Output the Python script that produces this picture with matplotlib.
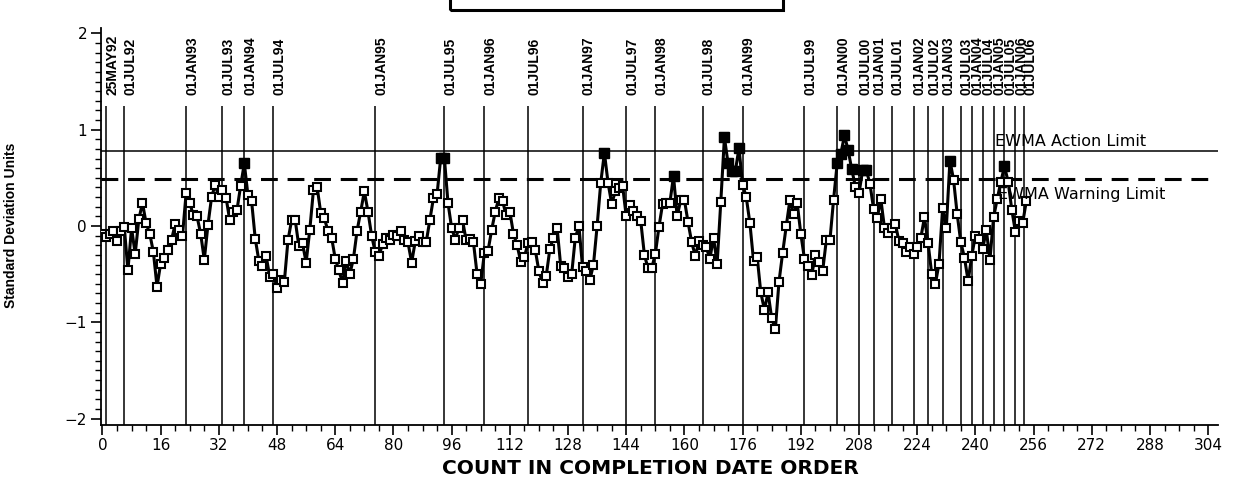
import matplotlib
matplotlib.use("Agg")
import matplotlib.pyplot as plt
import matplotlib.transforms as mtransforms
from matplotlib.patches import Rectangle
from matplotlib.ticker import MultipleLocator
import numpy as np

# ---- data ----
ewma = [
    -0.08, -0.11, -0.08, -0.05, -0.16, -0.05, -0.01, -0.46, -0.02, -0.29,
    0.07, 0.24, 0.03, -0.08, -0.27, -0.63, -0.39, -0.33, -0.25, -0.14,
    0.02, -0.04, -0.10, 0.34, 0.24, 0.11, 0.10, -0.08, -0.35, 0.01,
    0.30, 0.43, 0.30, 0.37, 0.29, 0.06, 0.15, 0.17, 0.42, 0.65,
    0.32, 0.26, -0.13, -0.36, -0.41, -0.31, -0.53, -0.50, -0.64, -0.56,
    -0.58, -0.15, 0.06, 0.06, -0.21, -0.18, -0.38, -0.04, 0.37, 0.41,
    0.14, 0.08, -0.05, -0.12, -0.34, -0.46, -0.59, -0.36, -0.50, -0.34,
    -0.05, 0.15, 0.36, 0.15, -0.10, -0.27, -0.31, -0.19, -0.12, -0.14,
    -0.09, -0.10, -0.05, -0.15, -0.17, -0.38, -0.16, -0.10, -0.17, -0.17,
    0.06, 0.29, 0.33, 0.71, 0.71, 0.24, -0.02, -0.14, -0.02, 0.06,
    -0.15, -0.13, -0.17, -0.50, -0.60, -0.28, -0.26, -0.04, 0.15, 0.29,
    0.26, 0.11, 0.15, -0.08, -0.20, -0.37, -0.32, -0.18, -0.17, -0.25,
    -0.47, -0.59, -0.52, -0.24, -0.12, -0.02, -0.42, -0.44, -0.53, -0.50,
    -0.12, 0.00, -0.43, -0.47, -0.56, -0.40, 0.00, 0.45, 0.76, 0.45,
    0.23, 0.36, 0.39, 0.42, 0.10, 0.22, 0.16, 0.10, 0.05, -0.30,
    -0.44, -0.44, -0.29, -0.01, 0.23, 0.24, 0.24, 0.52, 0.10, 0.27,
    0.27, 0.04, -0.17, -0.31, -0.16, -0.20, -0.22, -0.34, -0.12, -0.39,
    0.25, 0.92, 0.65, 0.57, 0.57, 0.81, 0.43, 0.30, 0.03, -0.36,
    -0.32, -0.69, -0.87, -0.69, -0.96, -1.07, -0.58, -0.28, 0.00, 0.27,
    0.12, 0.24, -0.08, -0.34, -0.41, -0.51, -0.30, -0.37, -0.47, -0.15,
    -0.15, 0.27, 0.65, 0.75, 0.94, 0.79, 0.59, 0.41, 0.34, 0.58,
    0.58, 0.44, 0.18, 0.08, 0.28, -0.02, -0.07, -0.02, 0.02, -0.16,
    -0.18, -0.27, -0.22, -0.29, -0.22, -0.12, 0.09, -0.18, -0.50, -0.60,
    -0.39, 0.19, -0.02, 0.68, 0.48, 0.12, -0.17, -0.33, -0.57, -0.31,
    -0.10, -0.13, -0.24, -0.04, -0.35, 0.09, 0.28, 0.46, 0.62, 0.46,
    0.17, -0.06, 0.05, 0.03, 0.26,
]
count = list(range(len(ewma)))

date_labels = ["25MAY92", "01JUL92", "01JAN93", "01JUL93", "01JAN94", "01JUL94",
               "01JAN95", "01JUL95", "01JAN96", "01JUL96", "01JAN97", "01JUL97",
               "01JAN98", "01JUL98", "01JAN99", "01JUL99", "01JAN00", "01JUL00",
               "01JAN01", "01JUL01", "01JAN02", "01JUL02", "01JAN03", "01JUL03",
               "01JAN04", "01JUL04", "01JAN05", "01JUL05", "01JAN06", "01JUL06"]
date_pos = [1, 6, 23, 33, 39, 47, 75, 94, 105, 117, 132, 144, 152, 165, 176,
            193, 202, 208, 212, 217, 223, 227, 231, 236, 239, 242, 245, 248, 251, 253.5]

action_limit = 0.78
warning_limit = 0.49

x_ticks = list(range(0, 305, 16))
y_ticks = [-2, -1, 0, 1, 2]

# ---- figure ----
W, H = 1247, 483
fig = plt.figure(figsize=(W / 100, H / 100), dpi=100)
ax = fig.add_axes([101 / W, (H - 425) / H, (1218 - 101) / W, (425 - 28) / H])
ax.set_xlim(-0.4, 306.7)
ax.set_ylim(-2.066, 2.056)

for s in ["top", "right"]:
    ax.spines[s].set_visible(False)
for s in ["left", "bottom"]:
    ax.spines[s].set_linewidth(1.3)

ax.set_xticks(x_ticks)
ax.xaxis.set_minor_locator(MultipleLocator(4))
ax.set_yticks(y_ticks)
ax.set_yticklabels(["\u22122" if v == -2 else "\u22121" if v == -1 else str(v) for v in y_ticks])
ax.yaxis.set_minor_locator(MultipleLocator(0.1))
ax.tick_params(which="major", length=7, width=1.2, labelsize=11, direction="out")
ax.tick_params(which="minor", length=4, width=1.0, direction="out")
ax.tick_params(axis="x", pad=2)
ax.tick_params(axis="y", pad=3)

# reference lines
line_top = 1.246
ax.vlines(date_pos, ax.get_ylim()[0], line_top, colors="black", linewidth=1.1, zorder=1)
ax.axhline(action_limit, color="black", linewidth=1.1, zorder=1)
ax.axhline(warning_limit, color="black", linewidth=2.2, linestyle=(0, (5.5, 3.2)), zorder=1)

# date labels
off = mtransforms.offset_copy(ax.transData, fig=fig, x=6, y=0, units="dots")
for d, p in zip(date_labels, date_pos):
    ax.text(p, 1.36, d, rotation=90, ha="center", va="bottom", transform=off,
            fontsize=10, fontweight="bold",
            family=["Liberation Sans", "DejaVu Sans"],
            clip_on=False)

# series
ax.plot(count, ewma, color="black", linewidth=2.2, zorder=3)
ax.plot(count, ewma, linestyle="none", marker="s", markersize=6, markerfacecolor="white",
        markeredgecolor="black", markeredgewidth=1.5, zorder=4)
hi_x = [c for c, v in zip(count, ewma) if v > 0.5]
hi_y = [v for v in ewma if v > 0.5]
ax.plot(hi_x, hi_y, linestyle="none", marker="s", markersize=7, markerfacecolor="black",
        markeredgecolor="black", zorder=5)

# limit labels
ax.text(245.4, 0.80, "EWMA Action Limit", ha="left", va="bottom", fontsize=11.5, zorder=6)
ax.text(246.2, 0.40, "EWMA Warning Limit", ha="left", va="top", fontsize=11.5, zorder=6)

# axis labels
fig.text(650 / W, 1 - 468 / H, "COUNT IN COMPLETION DATE ORDER", ha="center", va="center",
         fontsize=14.5, fontweight="bold")
fig.text(11 / W, 1 - 225 / H, "Standard Deviation Units", rotation=90, ha="center", va="center",
         fontsize=10, fontweight="bold",
         family=["Liberation Sans", "DejaVu Sans"])

# partially visible box at top
fig.add_artist(Rectangle((450 / W, 1 - 10 / H), (783 - 450) / W, 0.2, transform=fig.transFigure,
                         fill=False, edgecolor="black", linewidth=2.2))

fig.savefig("out.png", dpi=100)
